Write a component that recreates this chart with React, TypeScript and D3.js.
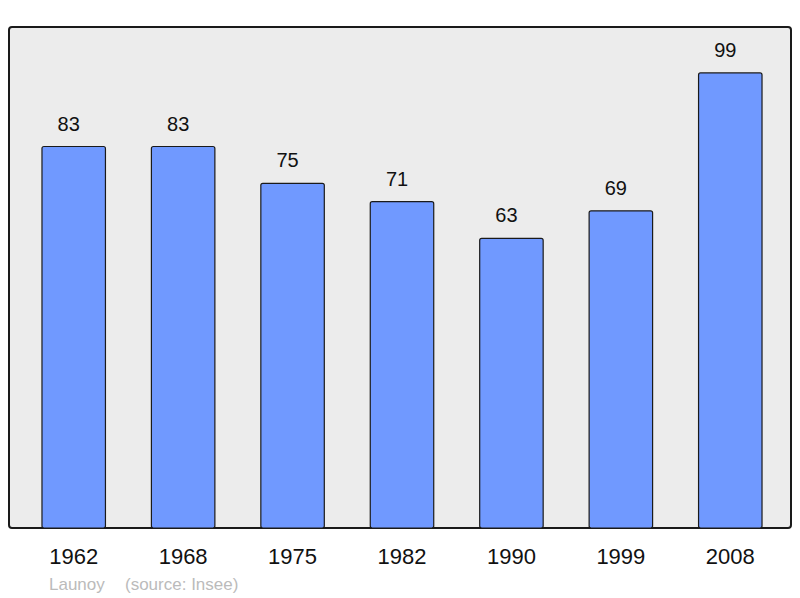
import React from 'react';
import { scaleBand, scaleLinear } from 'd3';

const years = ['1962', '1968', '1975', '1982', '1990', '1999', '2008'];
const population = [83, 83, 75, 71, 63, 69, 99];

const width = 800;
const height = 598;
const panel = { left: 9, top: 27, right: 791, bottom: 528 };

const App = () => {
  const xScale = scaleBand<string>()
    .domain(years)
    .range([19, 785])
    .paddingInner(0.42)
    .paddingOuter(0.21);

  const yScale = scaleLinear()
    .domain([0, 109])
    .range([panel.bottom, panel.top]);

  const font = '"Liberation Sans", Arial, sans-serif';

  return (
    <svg
      width={width}
      height={height}
      style={{ position: 'absolute', left: 0, top: 0, fontFamily: font }}
    >
      <rect x={0} y={0} width={width} height={height} fill="#ffffff" />
      <rect
        x={panel.left}
        y={panel.top}
        width={panel.right - panel.left}
        height={panel.bottom - panel.top}
        rx={3}
        fill="#ececec"
        stroke="#1a1a1a"
        strokeWidth={2}
      />
      {years.map((yr, i) => {
        const x = xScale(yr)!;
        const y = yScale(population[i]);
        const cx = x + xScale.bandwidth() / 2;
        return (
          <g key={yr}>
            <rect
              x={x}
              y={y}
              width={xScale.bandwidth()}
              height={yScale(0) - y}
              rx={2}
              fill="#7099ff"
              stroke="#1a1a1a"
              strokeWidth={1.2}
            />
            {/* value labels sit a little left of the bar centre in the original */}
            <text x={cx - 5} y={y - 16} textAnchor="middle" fontSize={20} fill="#111">
              {population[i]}
            </text>
            <text x={cx} y={564} textAnchor="middle" fontSize={22} fill="#111">
              {yr}
            </text>
          </g>
        );
      })}
      <text x={49} y={590} fontSize={17} fill="#bbbbbb">Launoy</text>
      <text x={125} y={590} fontSize={17} fill="#bbbbbb">(source: Insee)</text>
    </svg>
  );
};

export default App;
